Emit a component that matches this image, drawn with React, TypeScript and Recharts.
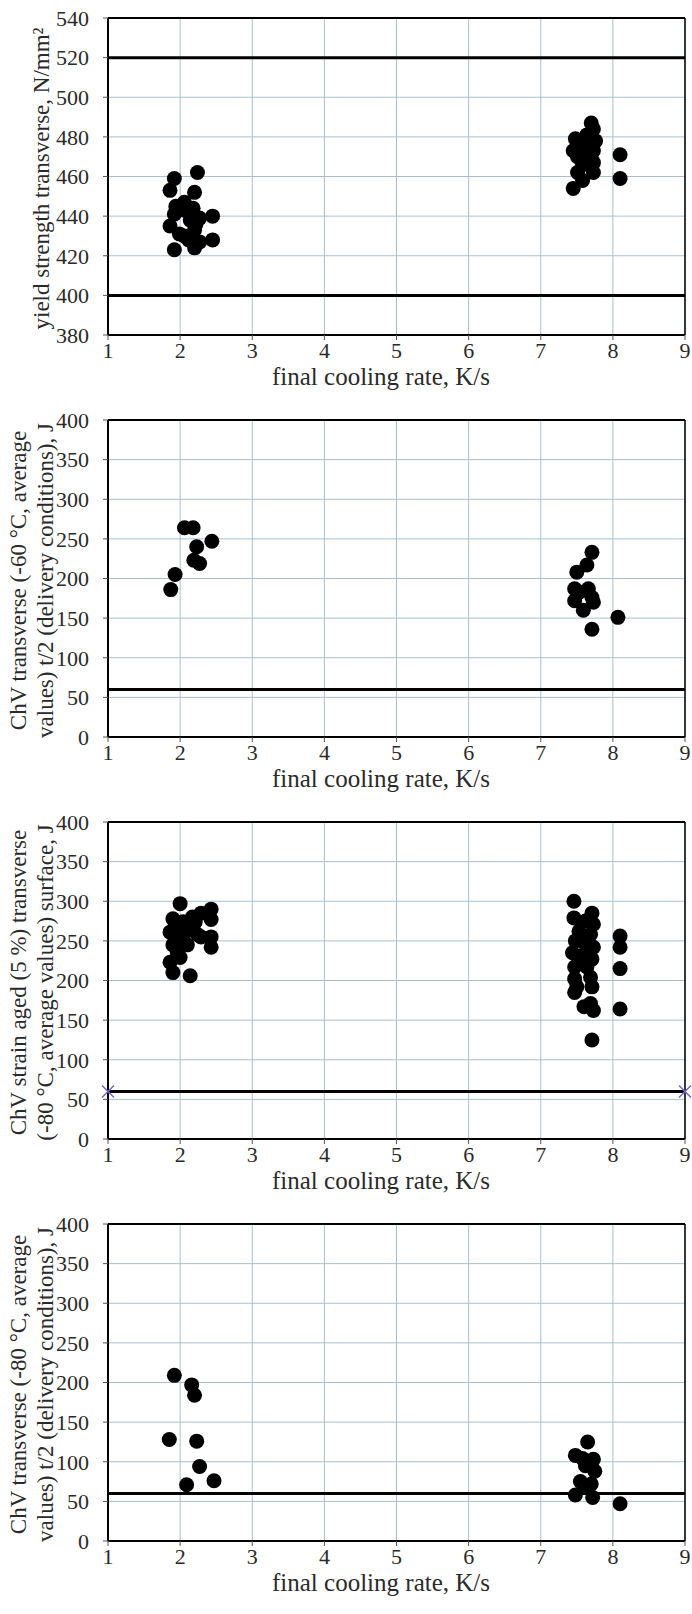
import { CartesianGrid, ReferenceLine, Scatter, ScatterChart, XAxis, YAxis } from 'recharts';

type Pt = { x: number; y: number };

const coolingTicks = [1, 2, 3, 4, 5, 6, 7, 8, 9];
const yieldTicks = [380, 400, 420, 440, 460, 480, 500, 520, 540];
const impactTicks = [0, 50, 100, 150, 200, 250, 300, 350, 400];

const yieldLimits = [400, 520];
const impactLimits = [60];

// yield strength transverse, N/mm2
const yieldPoints: Pt[] = [
  { x: 1.92, y: 459 }, { x: 1.86, y: 453 }, { x: 2.24, y: 462 }, { x: 2.2, y: 452 },
  { x: 2.06, y: 447 }, { x: 1.94, y: 445 }, { x: 2.06, y: 443 }, { x: 2.18, y: 444 },
  { x: 1.92, y: 441 }, { x: 2.45, y: 440 }, { x: 1.86, y: 435 }, { x: 2.27, y: 439 },
  { x: 2.06, y: 430 }, { x: 2.2, y: 433 }, { x: 2.45, y: 428 }, { x: 1.92, y: 423 },
  { x: 2.2, y: 424 }, { x: 2.12, y: 428 }, { x: 2.27, y: 427 }, { x: 1.99, y: 431 },
  { x: 2.14, y: 438 }, { x: 2.22, y: 436 },
  { x: 7.7, y: 487 }, { x: 7.73, y: 484 }, { x: 7.48, y: 479 }, { x: 7.64, y: 481 },
  { x: 7.76, y: 478 }, { x: 7.45, y: 473 }, { x: 7.58, y: 475 }, { x: 7.73, y: 473 },
  { x: 7.51, y: 470 }, { x: 7.7, y: 469 }, { x: 7.58, y: 466 }, { x: 7.73, y: 467 },
  { x: 7.51, y: 462 }, { x: 7.73, y: 462 }, { x: 7.58, y: 458 }, { x: 7.45, y: 454 },
  { x: 7.62, y: 471 }, { x: 7.66, y: 477 }, { x: 8.1, y: 471 }, { x: 8.1, y: 459 },
];

// ChV transverse -60 °C, t/2
const impact60Points: Pt[] = [
  { x: 2.06, y: 264 }, { x: 2.18, y: 264 }, { x: 2.44, y: 247 }, { x: 2.23, y: 240 },
  { x: 2.19, y: 223 }, { x: 2.27, y: 219 }, { x: 1.93, y: 205 }, { x: 1.87, y: 186 },
  { x: 7.71, y: 233 }, { x: 7.64, y: 217 }, { x: 7.5, y: 208 }, { x: 7.47, y: 187 },
  { x: 7.66, y: 187 }, { x: 7.54, y: 183 }, { x: 7.47, y: 172 }, { x: 7.73, y: 170 },
  { x: 7.71, y: 176 }, { x: 7.59, y: 160 }, { x: 8.07, y: 151 }, { x: 7.71, y: 136 },
];

// ChV strain aged (5 %) -80 °C, surface
const agedPoints: Pt[] = [
  { x: 2.0, y: 297 }, { x: 1.9, y: 278 }, { x: 2.04, y: 274 }, { x: 2.29, y: 285 },
  { x: 2.43, y: 290 }, { x: 2.43, y: 277 }, { x: 1.86, y: 261 }, { x: 2.07, y: 261 },
  { x: 2.24, y: 258 }, { x: 2.43, y: 255 }, { x: 1.9, y: 245 }, { x: 2.1, y: 245 },
  { x: 2.43, y: 242 }, { x: 1.86, y: 223 }, { x: 1.9, y: 210 }, { x: 2.14, y: 206 },
  { x: 1.96, y: 235 }, { x: 2.21, y: 274 }, { x: 2.29, y: 255 }, { x: 1.93, y: 268 },
  { x: 2.14, y: 268 }, { x: 2.0, y: 229 }, { x: 2.0, y: 252 }, { x: 2.17, y: 280 },
  { x: 7.46, y: 300 }, { x: 7.71, y: 285 }, { x: 7.46, y: 279 }, { x: 7.62, y: 275 },
  { x: 7.73, y: 271 }, { x: 7.53, y: 262 }, { x: 7.69, y: 258 }, { x: 7.48, y: 250 },
  { x: 7.62, y: 246 }, { x: 7.73, y: 242 }, { x: 7.44, y: 235 }, { x: 7.6, y: 233 },
  { x: 7.71, y: 227 }, { x: 7.47, y: 217 }, { x: 7.64, y: 217 }, { x: 7.47, y: 202 },
  { x: 7.69, y: 204 }, { x: 7.47, y: 185 }, { x: 7.71, y: 192 }, { x: 7.5, y: 192 },
  { x: 7.6, y: 167 }, { x: 7.73, y: 162 }, { x: 7.69, y: 171 }, { x: 7.71, y: 125 },
  { x: 7.58, y: 255 }, { x: 7.55, y: 225 },
  { x: 8.1, y: 256 }, { x: 8.1, y: 242 }, { x: 8.1, y: 215 }, { x: 8.1, y: 164 },
];
const agedLimitMarks: Pt[] = [{ x: 1, y: 60 }, { x: 9, y: 60 }];

// ChV transverse -80 °C, t/2
const impact80Points: Pt[] = [
  { x: 1.92, y: 209 }, { x: 2.16, y: 197 }, { x: 2.2, y: 184 }, { x: 1.85, y: 128 },
  { x: 2.23, y: 126 }, { x: 2.27, y: 94 }, { x: 2.09, y: 71 }, { x: 2.47, y: 76 },
  { x: 7.65, y: 125 }, { x: 7.48, y: 108 }, { x: 7.58, y: 104 }, { x: 7.73, y: 103 },
  { x: 7.62, y: 95 }, { x: 7.75, y: 88 }, { x: 7.55, y: 75 }, { x: 7.7, y: 72 },
  { x: 7.6, y: 68 }, { x: 7.48, y: 58 }, { x: 7.72, y: 55 }, { x: 8.1, y: 47 },
];

const TOP = 18;
const PLOT_H = 317;
const CHART_H = 402;
const textColor = '#2a2a2a';
const serif = 'Liberation Serif';

const Dot = (p: any) => <circle cx={p.cx} cy={p.cy} r={7.5} fill="#000" />;
const XMark = (p: any) => (
  <path
    d={`M${p.cx - 6},${p.cy - 6}L${p.cx + 6},${p.cy + 6}M${p.cx + 6},${p.cy - 6}L${p.cx - 6},${p.cy + 6}`}
    stroke="#7566c2"
    strokeWidth={1.5}
    fill="none"
  />
);

function Panel({
  points,
  ticks,
  limits,
  labelLines,
  marks,
}: {
  points: Pt[];
  ticks: number[];
  limits: number[];
  labelLines: string[];
  marks?: Pt[];
}) {
  const labelXs = labelLines.length === 1 ? [41] : [18, 45];
  const cy = TOP + PLOT_H / 2 + 2;
  return (
    <ScatterChart width={692} height={CHART_H} margin={{ top: TOP, right: 7, bottom: 0, left: 8 }}>
      <CartesianGrid stroke="#a9c0cc" />
      <XAxis
        type="number"
        dataKey="x"
        domain={[1, 9]}
        ticks={coolingTicks}
        height={CHART_H - TOP - PLOT_H}
        tick={{ fontSize: 22, fill: textColor, fontFamily: serif }}
        tickSize={5}
        tickMargin={2}
        axisLine={{ stroke: '#000', strokeWidth: 2 }}
        tickLine={{ stroke: '#555' }}
        label={{
          content: () => (
            <text
              x={381}
              y={TOP + PLOT_H + 41}
              textAnchor="middle"
              dominantBaseline="central"
              fontSize={25}
              fontFamily={serif}
              fill={textColor}
            >
              final cooling rate, K/s
            </text>
          ),
        }}
      />
      <YAxis
        type="number"
        dataKey="y"
        domain={[ticks[0], ticks[ticks.length - 1]]}
        ticks={ticks}
        width={100}
        tick={{ fontSize: 22, fill: textColor, fontFamily: serif }}
        tickSize={5}
        tickMargin={14}
        axisLine={{ stroke: '#000', strokeWidth: 2 }}
        tickLine={{ stroke: '#555' }}
        label={{
          content: () => (
            <g>
              {labelLines.map((line, i) => (
                <text
                  key={i}
                  x={labelXs[i]}
                  y={cy}
                  transform={`rotate(-90 ${labelXs[i]} ${cy})`}
                  textAnchor="middle"
                  dominantBaseline="central"
                  fontSize={23}
                  fontFamily={serif}
                  fill={textColor}
                >
                  {line}
                </text>
              ))}
            </g>
          ),
        }}
      />
      <ReferenceLine y={ticks[ticks.length - 1]} stroke="#000" strokeWidth={2} />
      <ReferenceLine x={9} stroke="#000" strokeWidth={1.5} />
      {limits.map((v) => (
        <ReferenceLine key={v} y={v} stroke="#000" strokeWidth={3} />
      ))}
      <Scatter data={points} shape={Dot} isAnimationActive={false} />
      {marks && <Scatter data={marks} shape={XMark} isAnimationActive={false} />}
    </ScatterChart>
  );
}

export default function App() {
  return (
    <div style={{ position: 'absolute', left: 0, top: 0, width: 692, background: '#fff' }}>
      <Panel points={yieldPoints} ticks={yieldTicks} limits={yieldLimits} labelLines={['yield strength transverse, N/mm²']} />
      <Panel
        points={impact60Points}
        ticks={impactTicks}
        limits={impactLimits}
        labelLines={['ChV transverse (-60 °C, average', 'values)  t/2 (delivery conditions), J']}
      />
      <Panel
        points={agedPoints}
        ticks={impactTicks}
        limits={impactLimits}
        marks={agedLimitMarks}
        labelLines={['ChV strain aged (5 %) transverse', '(-80 °C, average values) surface, J']}
      />
      <Panel
        points={impact80Points}
        ticks={impactTicks}
        limits={impactLimits}
        labelLines={['ChV transverse (-80 °C, average', 'values) t/2 (delivery conditions), J']}
      />
    </div>
  );
}
